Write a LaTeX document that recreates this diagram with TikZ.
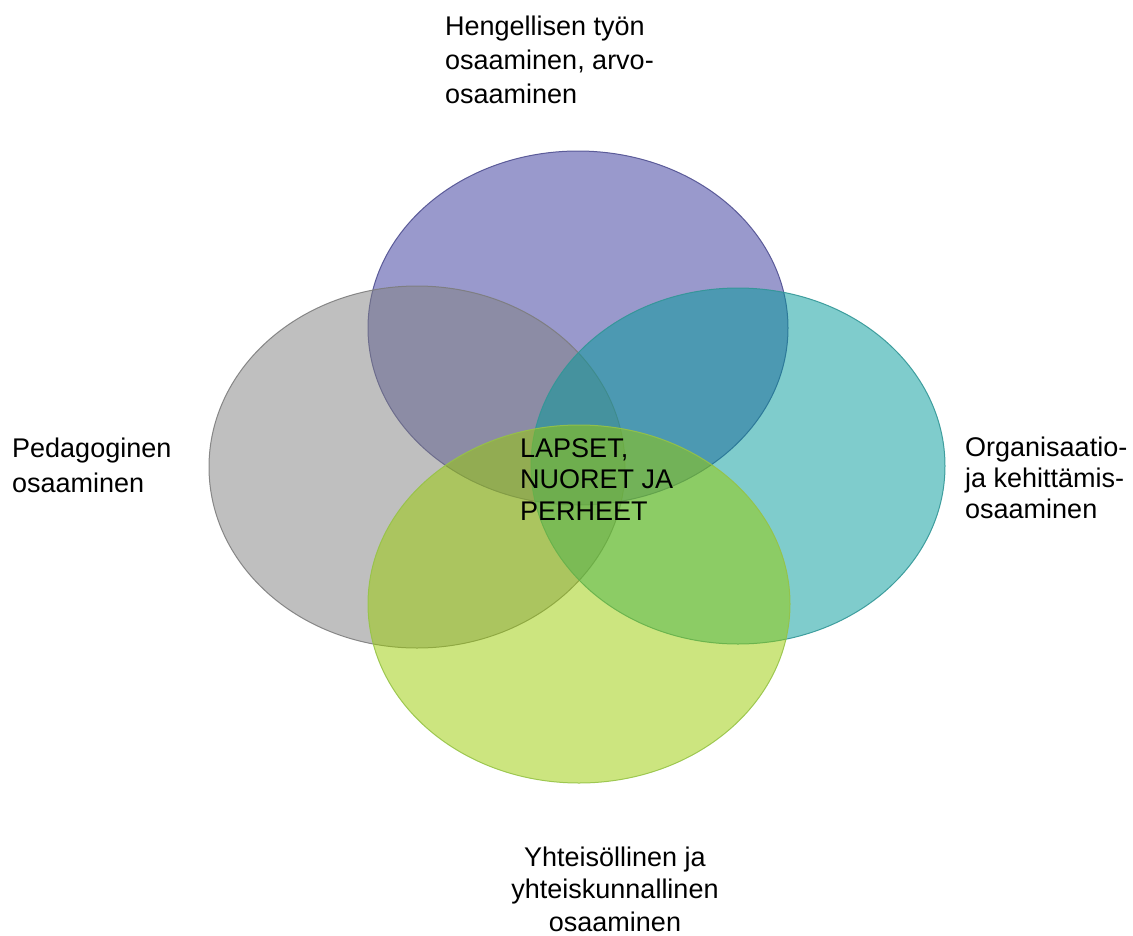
\documentclass[tikz,border=0pt]{standalone}
\usepackage{fontspec}
\setmainfont{Liberation Sans}
\begin{document}
\begin{tikzpicture}[x=1pt,y=-1pt,
    zone/.style={line width=1pt, fill opacity=0.5, draw opacity=0.9},
    legende/.style={font=\fontsize{27}{34}\selectfont, inner sep=0pt, anchor=base west, align=left}]

% Cadre de l'image
\useasboundingbox (0,0) rectangle (1133,935);

% Couleurs pour chaque ellipse
\definecolor{colorH}{RGB}{51,51,153}   % Violet (hengellinen)
\definecolor{colorP}{RGB}{128,128,128} % Gris (pedagoginen)
\definecolor{colorO}{RGB}{0,153,153}   % Turquoise (organisaatio)
\definecolor{colorY}{RGB}{153,204,0}   % Vert clair (yhteisöllinen)
\definecolor{lineH}{RGB}{80,80,145}
\definecolor{lineP}{RGB}{125,125,125}
\definecolor{lineO}{RGB}{50,150,150}
\definecolor{lineY}{RGB}{150,195,70}

% Ellipses semi-transparentes
\filldraw[zone,fill=colorH,draw=lineH] (578,328) ellipse[x radius=210, y radius=177]; % Haut
\filldraw[zone,fill=colorP,draw=lineP] (417,467) ellipse[x radius=208, y radius=181]; % Gauche
\filldraw[zone,fill=colorO,draw=lineO] (738,466) ellipse[x radius=207, y radius=178]; % Droite
\filldraw[zone,fill=colorY,draw=lineY] (579,604) ellipse[x radius=211, y radius=179]; % Bas

% Légendes (ancrées sur la dernière ligne)
\node[legende] (hengellinen) at (445,103)
  {Hengellisen työn\\osaaminen, arvo-\\osaaminen};
\node[legende, font=\fontsize{27}{35}\selectfont] (pedagoginen) at (12,492)
  {Pedagoginen\\osaaminen};
\node[legende, font=\fontsize{27}{31}\selectfont] (organisaatio) at (965,518)
  {Organisaatio-\\ja kehittämis-\\osaaminen};
\node[legende, font=\fontsize{27}{32.5}\selectfont, anchor=base, align=center] (yhteisollinen) at (615,931)
  {Yhteisöllinen ja\\yhteiskunnallinen\\osaaminen};
\node[legende, font=\fontsize{27}{31.5}\selectfont] (lapset) at (520,520)
  {LAPSET,\\NUORET JA\\PERHEET};

\end{tikzpicture}
\end{document}
